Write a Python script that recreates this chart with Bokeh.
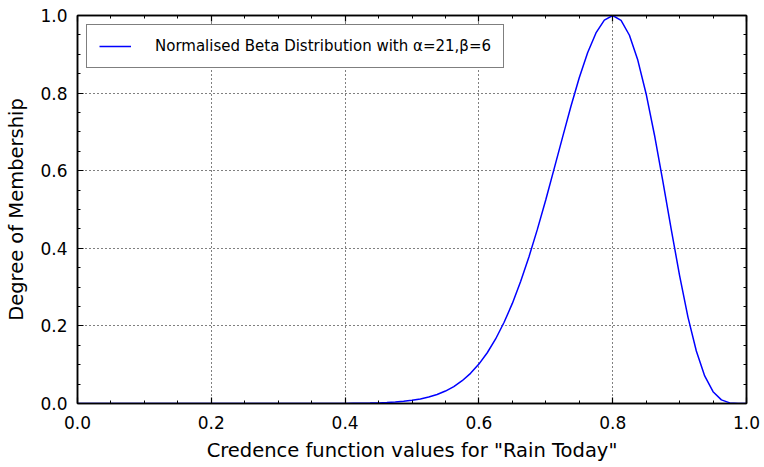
from bokeh.plotting import figure
from bokeh.models import (Range1d, LinearAxis, FixedTicker, Legend, LegendItem,
                          ColumnDataSource, PrintfTickFormatter, CustomJSTickFormatter)
from bokeh.embed import file_html
from bokeh.resources import INLINE

# Data (normalised beta curve, alpha=21, beta=6)
credence = [0.0, 0.4, 0.4125, 0.425, 0.4375, 0.45, 0.4625, 0.475, 0.4875, 0.5,
            0.5125, 0.525, 0.5375, 0.55, 0.5625, 0.575, 0.5875, 0.6, 0.6125, 0.625,
            0.6375, 0.65, 0.6625, 0.675, 0.6875, 0.7, 0.7125, 0.725, 0.7375, 0.75,
            0.7625, 0.775, 0.7875, 0.8, 0.8125, 0.825, 0.8375, 0.85, 0.8625, 0.875,
            0.8875, 0.9, 0.9125, 0.925, 0.9375, 0.95, 0.9625, 0.975, 0.9875, 1.0]
membership = [0.0, 0.00023, 0.00039, 0.00063, 0.0010, 0.0016, 0.0024, 0.0037, 0.0055, 0.0081,
              0.0117, 0.0166, 0.0232, 0.0321, 0.0437, 0.0587, 0.0777, 0.1015, 0.1308, 0.1663,
              0.2087, 0.2580, 0.3148, 0.3790, 0.4494, 0.5253, 0.6054, 0.6860, 0.7655, 0.8394,
              0.9039, 0.9550, 0.9881, 1.0, 0.9875, 0.9491, 0.8851, 0.7978, 0.6914, 0.5725,
              0.4489, 0.3296, 0.2227, 0.1353, 0.0711, 0.0304, 0.0094, 0.0016, 0.00006, 0.0]
major_ticks = [0.0, 0.2, 0.4, 0.6, 0.8, 1.0]
minor_ticks = [0.05, 0.1, 0.15, 0.25, 0.3, 0.35, 0.45, 0.5, 0.55, 0.65, 0.7, 0.75,
               0.85, 0.9, 0.95]
legend_label = "Normalised Beta Distribution with \u03b1=21,\u03b2=6"
x_label = 'Credence function values for "Rain Today"'
y_label = "Degree of Membership"

FONT = "DejaVu Sans"

p = figure(frame_width=669, frame_height=388, output_backend="svg",
           toolbar_location=None, x_range=Range1d(0, 1), y_range=Range1d(0, 1),
           min_border_left=77, min_border_top=15, min_border_right=14,
           min_border_bottom=10, x_axis_location=None, y_axis_location=None,
           background_fill_color="white", border_fill_color="white")
p.outline_line_color = "black"
p.outline_line_width = 1.5

ticker = FixedTicker(ticks=major_ticks, minor_ticks=minor_ticks)


def make_axis(show_labels, label=None):
    if show_labels:
        fmt = PrintfTickFormatter(format="%.1f")
    else:
        fmt = CustomJSTickFormatter(code="return ''")
    ax = LinearAxis(ticker=ticker, formatter=fmt)
    ax.axis_line_color = "black"
    ax.axis_line_width = 1.5
    ax.major_tick_in = 6
    ax.major_tick_out = 0
    ax.minor_tick_in = 3
    ax.minor_tick_out = 0
    ax.major_tick_line_color = "black"
    ax.minor_tick_line_color = "black"
    ax.major_tick_line_width = 1.2
    ax.minor_tick_line_width = 1
    if show_labels:
        ax.major_label_text_font = FONT
        ax.major_label_text_font_size = "17px"
        ax.major_label_text_color = "black"
        ax.axis_label = label
        ax.axis_label_text_font = FONT
        ax.axis_label_text_font_size = "19.5px"
        ax.axis_label_text_font_style = "normal"
        ax.axis_label_text_color = "black"
    else:
        ax.major_label_standoff = 0
    return ax


xb = make_axis(True, x_label)
xb.major_label_standoff = 12
xb.axis_label_standoff = 7
yl = make_axis(True, y_label)
yl.major_label_standoff = 10
yl.axis_label_standoff = 9
p.add_layout(xb, "below")
p.add_layout(yl, "left")
p.add_layout(make_axis(False), "above")
p.add_layout(make_axis(False), "right")

p.xgrid.ticker = ticker
p.ygrid.ticker = ticker
for g in (p.xgrid, p.ygrid):
    g.grid_line_color = "black"
    g.grid_line_dash = "1 3"
    g.grid_line_width = 1

src = ColumnDataSource(dict(x=credence, y=membership))
r = p.line("x", "y", source=src, line_color="#0000ff", line_width=1.5)

legend = Legend(items=[LegendItem(label=legend_label, renderers=[r])],
                location="top_left", margin=9, padding=12,
                glyph_width=32, glyph_height=14, label_height=14,
                label_standoff=24,
                label_text_font=FONT, label_text_font_size="15px",
                label_text_color="black", border_line_color="black",
                border_line_width=1.2, background_fill_alpha=1,
                spacing=0)
p.add_layout(legend, "center")

open("out.html", "w").write(file_html(p, INLINE))
